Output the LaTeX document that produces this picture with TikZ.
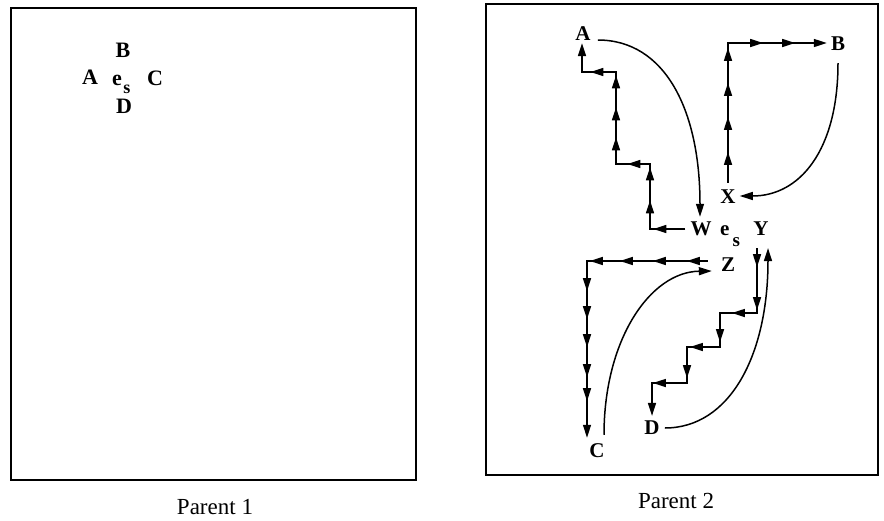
\documentclass[tikz,border=0pt]{standalone}
\usepackage{fontspec}
\setmainfont{Liberation Serif}
\usetikzlibrary{arrows.meta,decorations.markings,calc}
\begin{document}
\begin{tikzpicture}[x=1pt,y=-1pt,
  labone/.style={font=\bfseries\fontsize{22}{22}\selectfont, inner sep=0pt},
  lab/.style={font=\bfseries\fontsize{21}{21}\selectfont, inner sep=0pt},
  captxt/.style={font=\fontsize{23}{23}\selectfont, inner sep=0pt},
  frame/.style={line width=1.6pt},
  conn/.style={line width=1.5pt, -{Triangle[length=13pt,width=8pt]}},
  tipat/.style={postaction={decorate,decoration={markings,mark=at position #1 with {\arrow{Triangle[length=13pt,width=8pt]}}}}},
]
\useasboundingbox (0,0) rectangle (884,520);

% Parent 1
\draw[frame] (11,8) rectangle (416,480);
\node[labone] (B1) at (123,50) {B};
\node[labone] (A1) at (90,77) {A};
\node[labone, anchor=base west] (es1) at (112,85) {e\kern1.5pt\raisebox{-8pt}{\fontsize{18}{18}\selectfont s}};
\node[labone] (C1) at (155,78) {C};
\node[labone] (D1) at (124,106) {D};
\node[captxt] (cap1) at (215,507) {Parent 1};

% Parent 2
\draw[frame] (486,4) rectangle (878,475);
\node[lab] (A2) at (583,34) {A};
\node[lab] (B2) at (838,44) {B};
\node[lab] (X) at (728,197) {X};
\node[lab] (W) at (701,229) {W};
\node[lab, anchor=base west] (es2) at (720,235) {e\kern3pt\raisebox{-11pt}{\fontsize{19}{19}\selectfont s}};
\node[lab] (Y) at (761,229) {Y};
\node[lab] (Z) at (728,265) {Z};
\node[lab] (C2) at (597,451) {C};
\node[lab] (D2) at (652,428) {D};
\node[captxt] (cap2) at (676,501) {Parent 2};

% A -> W curve
\draw[conn] ($(A2.east)+(7,6)$) .. controls (665,40) and (700,110) .. ($(W.north)+(-1,-5)$);
% W -> A staircase
\draw[conn, tipat=32pt, tipat=64pt, tipat=97pt, tipat=123pt, tipat=161pt, tipat=191pt, tipat=223pt, tipat=252pt]
  ($(W.west)+(-5,0)$) -- (650,229) -- (650,164) -- (616,164) -- (616,72) -- (582,72) -- ($(A2.south)+(-1,2)$);
% B -> X curve
\draw[conn] ($(B2.south)+(0,12)$) .. controls (838,150) and (800,196) .. ($(X.east)+(4,-1)$);
% X -> B staircase
\draw[conn, tipat=31pt, tipat=66pt, tipat=100pt, tipat=135pt, tipat=175pt, tipat=207pt]
  ($(X.north)+(0,-7)$) -- (728,43) -- ($(B2.west)+(-4,-1)$);
% Z -> C staircase
\draw[conn, tipat=21pt, tipat=55pt, tipat=88pt, tipat=118pt, tipat=151pt, tipat=179pt, tipat=207pt, tipat=237pt, tipat=261pt]
  ($(Z.west)+(-13,-4)$) -- (587,261) -- ($(C2.north)+(-10,-6)$);
% C -> Z curve
\draw[conn] ($(C2.north)+(7,-9)$) .. controls (604,340) and (650,272) .. ($(Z.west)+(-9,6)$);
% Y -> D staircase
\draw[conn, tipat=19pt, tipat=62pt, tipat=90pt, tipat=131pt, tipat=166pt, tipat=200pt, tipat=239pt]
  ($(Y.south)+(-4,12)$) -- (757,313) -- (720,313) -- (720,347) -- (687,347) -- (687,383) -- (652,383) -- ($(D2.north)+(0,-5)$);
% D -> Y curve
\draw[conn] ($(D2.east)+(5,0)$) .. controls (730,428) and (768,355) .. ($(Y.south)+(7,12)$);
\end{tikzpicture}
\end{document}
